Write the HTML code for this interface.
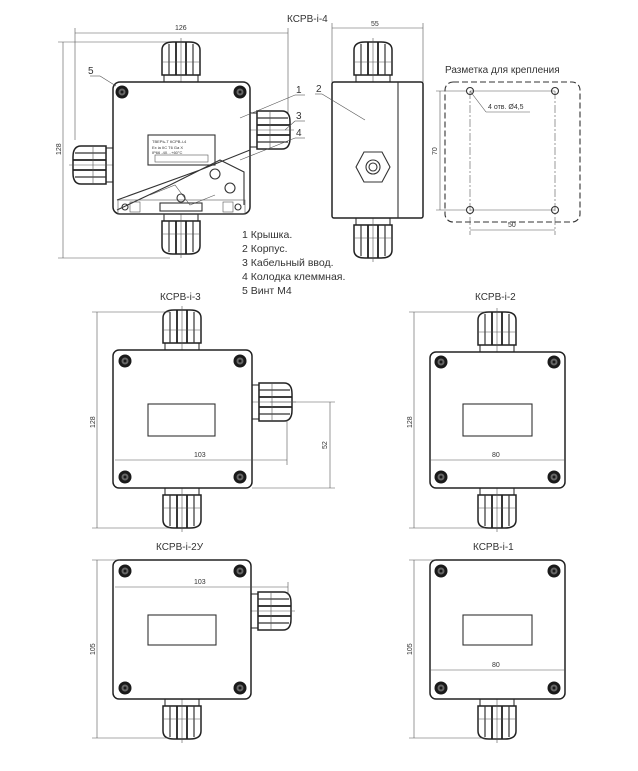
<!DOCTYPE html>
<html><head><meta charset="utf-8"><style>
html,body{margin:0;padding:0;background:#fff;}
svg{display:block;}
text{font-family:"Liberation Sans",sans-serif;fill:#333;}
.s{stroke:#333;fill:none;stroke-width:1.1}
.t{stroke:#555;fill:none;stroke-width:0.6}
.b{stroke:#222;fill:#fff;stroke-width:1.5}
</style></head><body>
<svg width="638" height="771" viewBox="0 0 638 771" xmlns="http://www.w3.org/2000/svg">
<defs>
 <g id="gv">
  <rect x="-17" y="-7" width="34" height="7" class="s" stroke-width="1.4"/>
  <path d="M-19,-7 L-19,-32 Q-19,-40 -8,-40 L8,-40 Q19,-40 19,-32 L19,-7 Z" class="b" stroke-width="1.6"/>
  <line x1="-12" y1="-38" x2="-12" y2="-7" stroke="#333" stroke-width="1.2"/>
  <line x1="12" y1="-38" x2="12" y2="-7" stroke="#333" stroke-width="1.2"/>
  <line x1="-5" y1="-40" x2="-5" y2="-7" stroke="#222" stroke-width="1.8"/>
  <line x1="5" y1="-40" x2="5" y2="-7" stroke="#222" stroke-width="1.8"/>
  <line x1="-19" y1="-20" x2="19" y2="-20" class="t"/>
  <line x1="0" y1="-44" x2="0" y2="5" class="t"/>
 </g>
 <g id="sc"><circle r="6.5" fill="#1a1a1a"/><circle r="3.5" fill="#666"/><circle r="1.5" fill="#1a1a1a"/></g>
 <g id="hole"><circle r="3.5" class="s" fill="#fff"/></g>
</defs>

<text x="287" y="22" font-size="10">КСРВ-i-4</text>
<line x1="75" y1="33" x2="288" y2="33" class="t"/><text x="175" y="30" font-size="7">126</text>
<line x1="75" y1="28" x2="75" y2="140" class="t"/><line x1="288" y1="28" x2="288" y2="140" class="t"/>
<line x1="63" y1="42" x2="63" y2="258" class="t"/>
<line x1="58" y1="42" x2="170" y2="42" class="t"/><line x1="58" y1="258" x2="170" y2="258" class="t"/>
<text x="61" y="155" font-size="7" transform="rotate(-90 61 155)">128</text>
<use href="#gv" x="181" y="82"/>
<use href="#gv" x="181" y="214" transform="rotate(180 181 214)"/>
<use href="#gv" x="113" y="165" transform="rotate(-90 113 165)"/>
<use href="#gv" x="250" y="130" transform="rotate(90 250 130)"/>
<rect x="113" y="82" width="137" height="132" rx="7" class="b"/>
<use href="#sc" x="122" y="92"/><use href="#sc" x="240" y="92"/>
<rect x="148" y="135" width="67" height="30" class="s"/>
<rect x="155" y="155" width="53" height="7" class="t"/>
<text x="152" y="143" font-size="4">ТВЕРЬ-Т  КСРВ-i-4</text>
<text x="152" y="149" font-size="4">Ex ia IIC T6 Ga X</text>
<text x="152" y="154" font-size="4">IP66  -40…+60°C</text>
<path d="M117,200 L200,170 L250,150 M117,210 L170,185 L220,160 L244,172 L244,205" class="s"/>
<path d="M150,195 L175,185 L190,205 L215,195" class="t"/>
<circle cx="215" cy="174" r="5" class="s"/><circle cx="230" cy="188" r="5" class="s"/>
<rect x="118" y="200" width="127" height="14" class="t"/>
<circle cx="125" cy="207" r="3" class="s"/><circle cx="238" cy="207" r="3" class="s"/>
<rect x="130" y="202" width="10" height="10" class="t"/><rect x="223" y="202" width="10" height="10" class="t"/>
<rect x="160" y="203" width="42" height="8" class="s"/><circle cx="181" cy="198" r="4" class="s"/>
<line x1="90" y1="76" x2="100" y2="76" class="t"/><line x1="100" y1="76" x2="116" y2="86" class="t"/>
<text x="88" y="74" font-size="10">5</text>
<text x="296" y="93" font-size="10">1</text><line x1="295" y1="95" x2="305" y2="95" class="t"/><line x1="295" y1="95" x2="240" y2="118" class="t"/>
<text x="296" y="119" font-size="10">3</text><line x1="295" y1="121" x2="305" y2="121" class="t"/><line x1="295" y1="121" x2="285" y2="130" class="t"/>
<text x="296" y="136" font-size="10">4</text><line x1="295" y1="138" x2="305" y2="138" class="t"/><line x1="295" y1="138" x2="240" y2="160" class="t"/>

<g font-size="10.5">
<text x="242" y="238">1 Крышка.</text>
<text x="242" y="252">2 Корпус.</text>
<text x="242" y="266">3 Кабельный ввод.</text>
<text x="242" y="280">4 Колодка клеммная.</text>
<text x="242" y="294">5 Винт М4</text>
</g>

<line x1="332" y1="28" x2="423" y2="28" class="t"/><text x="371" y="26" font-size="7">55</text>
<line x1="332" y1="23" x2="332" y2="82" class="t"/><line x1="423" y1="23" x2="423" y2="82" class="t"/>
<use href="#gv" x="373" y="82"/>
<use href="#gv" x="373" y="218" transform="rotate(180 373 218)"/>
<rect x="332" y="82" width="91" height="136" rx="2" class="b"/>
<line x1="398" y1="82" x2="398" y2="218" class="s"/>
<polygon points="364,152 382,152 390,167 382,182 364,182 356,167" class="s" stroke-width="1.4"/>
<circle cx="373" cy="167" r="7" class="s"/><circle cx="373" cy="167" r="4" class="s"/>
<text x="316" y="92" font-size="10">2</text><line x1="315" y1="94" x2="322" y2="94" class="t"/><line x1="322" y1="94" x2="365" y2="120" class="t"/>

<text x="445" y="73" font-size="10">Разметка для крепления</text>
<rect x="445" y="82" width="135" height="140" rx="8" class="s" stroke-dasharray="6,3" stroke-width="1.3"/>
<line x1="470" y1="91" x2="555" y2="91" class="t"/><line x1="470" y1="210" x2="555" y2="210" class="t"/>
<line x1="470" y1="91" x2="470" y2="235" class="t" stroke-dasharray="8,2,2,2"/><line x1="555" y1="91" x2="555" y2="235" class="t" stroke-dasharray="8,2,2,2"/>
<use href="#hole" x="470" y="91"/><use href="#hole" x="555" y="91"/><use href="#hole" x="470" y="210"/><use href="#hole" x="555" y="210"/>
<line x1="440" y1="91" x2="440" y2="210" class="t"/><line x1="436" y1="91" x2="466" y2="91" class="t"/><line x1="436" y1="210" x2="466" y2="210" class="t"/>
<text x="437" y="155" font-size="7" transform="rotate(-90 437 155)">70</text>
<line x1="470" y1="230" x2="555" y2="230" class="t"/><text x="508" y="227" font-size="7">50</text>
<line x1="470" y1="91" x2="486" y2="112" class="t"/><line x1="486" y1="112" x2="530" y2="112" class="t"/>
<text x="488" y="109" font-size="7">4 отв. Ø4,5</text>

<text x="160" y="300" font-size="10">КСРВ-i-3</text>
<use href="#gv" x="182" y="350"/>
<use href="#gv" x="182" y="488" transform="rotate(180 182 488)"/>
<use href="#gv" x="252" y="402" transform="rotate(90 252 402)"/>
<rect x="113" y="350" width="139" height="138" rx="6" class="b"/>
<use href="#sc" x="125" y="361"/><use href="#sc" x="240" y="361"/><use href="#sc" x="125" y="477"/><use href="#sc" x="240" y="477"/>
<rect x="148" y="404" width="67" height="32" class="s" stroke-width="1.3"/>
<line x1="97" y1="312" x2="97" y2="528" class="t"/><line x1="92" y1="312" x2="170" y2="312" class="t"/><line x1="92" y1="528" x2="170" y2="528" class="t"/>
<text x="95" y="428" font-size="7" transform="rotate(-90 95 428)">128</text>
<line x1="115" y1="460" x2="287" y2="460" class="t"/><line x1="287" y1="420" x2="287" y2="465" class="t"/>
<text x="194" y="457" font-size="7">103</text>
<line x1="330" y1="402" x2="330" y2="488" class="t"/><line x1="270" y1="402" x2="335" y2="402" class="t"/><line x1="252" y1="488" x2="335" y2="488" class="t"/>
<text x="327" y="449" font-size="7" transform="rotate(-90 327 449)">52</text>

<text x="475" y="300" font-size="10">КСРВ-i-2</text>
<use href="#gv" x="497" y="352"/>
<use href="#gv" x="497" y="488" transform="rotate(180 497 488)"/>
<rect x="430" y="352" width="135" height="136" rx="6" class="b"/>
<use href="#sc" x="441" y="362"/><use href="#sc" x="554" y="362"/><use href="#sc" x="441" y="477"/><use href="#sc" x="554" y="477"/>
<rect x="463" y="404" width="69" height="32" class="s" stroke-width="1.3"/>
<line x1="414" y1="312" x2="414" y2="528" class="t"/><line x1="409" y1="312" x2="485" y2="312" class="t"/><line x1="409" y1="528" x2="485" y2="528" class="t"/>
<text x="412" y="428" font-size="7" transform="rotate(-90 412 428)">128</text>
<line x1="430" y1="460" x2="565" y2="460" class="t"/><text x="492" y="457" font-size="7">80</text>

<text x="156" y="550" font-size="10">КСРВ-i-2У</text>
<use href="#gv" x="182" y="699" transform="rotate(180 182 699)"/>
<use href="#gv" x="251" y="611" transform="rotate(90 251 611)"/>
<rect x="113" y="560" width="138" height="139" rx="6" class="b"/>
<use href="#sc" x="125" y="571"/><use href="#sc" x="240" y="571"/><use href="#sc" x="125" y="688"/><use href="#sc" x="240" y="688"/>
<rect x="148" y="615" width="68" height="30" class="s" stroke-width="1.3"/>
<line x1="97" y1="560" x2="97" y2="738" class="t"/><line x1="92" y1="560" x2="120" y2="560" class="t"/><line x1="92" y1="738" x2="170" y2="738" class="t"/>
<text x="95" y="655" font-size="7" transform="rotate(-90 95 655)">105</text>
<line x1="115" y1="587" x2="288" y2="587" class="t"/><line x1="288" y1="582" x2="288" y2="595" class="t"/>
<text x="194" y="584" font-size="7">103</text>

<text x="473" y="550" font-size="10">КСРВ-i-1</text>
<use href="#gv" x="497" y="699" transform="rotate(180 497 699)"/>
<rect x="430" y="560" width="135" height="139" rx="6" class="b"/>
<use href="#sc" x="441" y="571"/><use href="#sc" x="554" y="571"/><use href="#sc" x="441" y="688"/><use href="#sc" x="554" y="688"/>
<rect x="463" y="615" width="69" height="30" class="s" stroke-width="1.3"/>
<line x1="414" y1="560" x2="414" y2="738" class="t"/><line x1="409" y1="560" x2="436" y2="560" class="t"/><line x1="409" y1="738" x2="485" y2="738" class="t"/>
<text x="412" y="655" font-size="7" transform="rotate(-90 412 655)">105</text>
<line x1="430" y1="670" x2="565" y2="670" class="t"/><text x="492" y="667" font-size="7">80</text>
</svg>
</body></html>
